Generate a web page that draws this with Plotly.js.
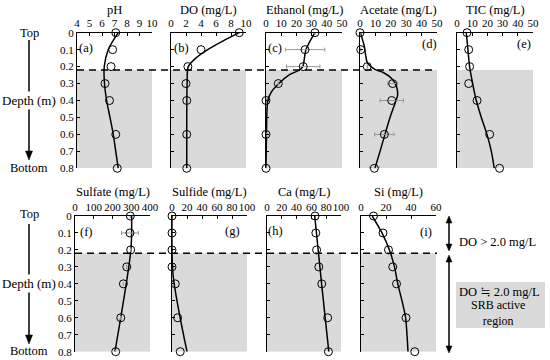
<!DOCTYPE html>
<html>
<head>
<meta charset="utf-8">
<script src="https://cdn.plot.ly/plotly-3.0.1.min.js"></script>
<style>
html,body{margin:0;padding:0;background:#fff;}
#chart{width:550px;height:360px;}
#chart svg text{font-family:"Liberation Serif","Times New Roman","DejaVu Serif",serif !important;}
</style>
</head>
<body>
<div id="chart"></div>
<script>
// ---- data ----
const depth = [0, 0.1, 0.2, 0.3, 0.4, 0.6, 0.8];
const pH = [7.1, 6.85, 6.72, 6.24, 6.6, 7.1, 7.22];
const DO = [9.1, 4.0, 2.25, 2.0, 2.1, 2.1, 2.1];
const ethanol = [32.2, 25.7, 24.5, 8.1, 0, 0, 0];
const ethanolErr = [null, 13, 11, null, null, null, null];
const acetate = [0, 0.5, 4.7, 21.2, 20.6, 15.8, 9.3];
const acetateErr = [null, null, null, 3.2, 7.6, 6.3, 3.2];
const tic = [6.6, 7.7, 8.3, 7.7, 13.2, 21.5, 28];
const sulfate = [295, 293, 297, 276, 258, 244, 217];
const sulfateErr = [null, 45, null, null, null, null, null];
const sulfide = [0, 0, 0, 0, 4.4, 7.5, 11];
const ca = [65, 66, 67, 70, 74, 82, 83];
const si = [10, 17.6, 22, 25.4, 28.4, 36, 43];

// fitted curves
const fitDepth9 = [0, 0.1, 0.2, 0.3, 0.4, 0.5, 0.6, 0.7, 0.8];
const pHFit = [7.3, 6.5, 6.18, 6.2, 6.37, 6.64, 6.9, 7.1, 7.3];
const DOFitDepth = [0, 0.05, 0.1, 0.15, 0.2, 0.3, 0.5, 0.8];
const DOFit = [9.1, 6.9, 4.9, 3.3, 2.3, 2.15, 2.1, 2.1];
const ethanolFitDepth = [0, 0.1, 0.2, 0.22, 0.25, 0.3, 0.35, 0.4, 0.5, 0.6, 0.8];
const ethanolFit = [32.2, 26.3, 24.2, 22, 15, 8.5, 3.5, 1.2, 0.5, 0.3, 0];
const acetateFitDepth = [0, 0.08, 0.18, 0.216, 0.235, 0.27, 0.32, 0.37, 0.4, 0.5, 0.6, 0.7, 0.8];
const acetateFit = [0.3, 2.8, 4.9, 9.7, 15.1, 20.6, 23.8, 24.4, 23.4, 19.5, 16.2, 13, 9.7];
const ticFit = [6.1, 7.2, 8.3, 10.3, 12.7, 16, 19.7, 22.6, 24.5];
const sulfateFitDepth = [0, 0.2, 0.8];
const sulfateFit = [302, 298, 213];
const sulfideFitDepth = [0, 0.35, 0.8];
const sulfideFit = [0, 1.5, 20];
const caFitDepth = [0, 0.4, 0.8];
const caFit = [64.5, 73.8, 83.5];
const siFit = [9, 16.8, 22.7, 26.8, 29.4, 32.8, 35.7, 36.8, 37.6];

const titles = ['pH', 'DO (mg/L)', 'Ethanol (mg/L)', 'Acetate (mg/L)', 'TIC (mg/L)',
                'Sulfate (mg/L)', 'Sulfide (mg/L)', 'Ca (mg/L)', 'Si (mg/L)'];
const panelLabels = ['(a)', '(b)', '(c)', '(d)', '(e)', '(f)', '(g)', '(h)', '(i)'];
const xRanges = [[4, 10], [0, 10], [0, 50], [0, 50], [0, 50], [0, 400], [0, 100], [0, 100], [0, 60]];
const xDticks = [1, 2, 10, 10, 10, 100, 20, 20, 20];
const depthTicks = [0, 0.1, 0.2, 0.3, 0.4, 0.5, 0.6, 0.7, 0.8];
const activeTop = 0.22;

// ---- layout geometry (pixels) ----
const W = 550, H = 360;
const px = v => v / W;
const py = v => 1 - v / H;
const xPix = [[77, 152], [171, 246], [266, 342], [360, 437], [457, 533],
              [75, 150], [172, 247], [267, 341], [361, 436]];
const rowPix = [[32.7, 168.3], [216, 351.7]];
const labelPos = [[86, 48], [181, 48], [275, 48], [429, 44], [524, 44],
                  [86, 232], [232, 231], [275, 231], [426, 232]];

const FONT = '"Liberation Serif", "Times New Roman", "DejaVu Serif", serif';
const GRAY = '#dadada';

const series = [
  {v: pH, fd: fitDepth9, f: pHFit},
  {v: DO, fd: DOFitDepth, f: DOFit},
  {v: ethanol, e: ethanolErr, fd: ethanolFitDepth, f: ethanolFit},
  {v: acetate, e: acetateErr, fd: acetateFitDepth, f: acetateFit},
  {v: tic, fd: fitDepth9, f: ticFit},
  {v: sulfate, e: sulfateErr, fd: sulfateFitDepth, f: sulfateFit},
  {v: sulfide, fd: sulfideFitDepth, f: sulfideFit},
  {v: ca, fd: caFitDepth, f: caFit},
  {v: si, fd: fitDepth9, f: siFit}
];

const layout = {
  width: W, height: H,
  margin: {l: 0, r: 0, t: 0, b: 0},
  paper_bgcolor: '#fff', plot_bgcolor: 'rgba(0,0,0,0)',
  showlegend: false,
  font: {family: FONT, size: 11, color: '#000'},
  shapes: [], annotations: []
};
const traces = [];

series.forEach((s, i) => {
  const n = i + 1;
  const xs = n === 1 ? '' : String(n);
  const row = i < 5 ? 0 : 1;
  const [yt, yb] = rowPix[row];
  layout['xaxis' + xs] = {
    domain: [px(xPix[i][0]), px(xPix[i][1])],
    range: xRanges[i], dtick: xDticks[i], tick0: 0, tickangle: 0,
    side: 'top', anchor: 'y' + xs,
    showline: true, linecolor: '#000', linewidth: 1,
    ticks: 'inside', ticklen: 3, tickcolor: '#000', tickwidth: 1,
    showgrid: false, zeroline: false, fixedrange: true,
    tickfont: {family: FONT, size: 11, color: '#000'}
  };
  layout['yaxis' + xs] = {
    domain: [py(yb), py(yt)],
    range: [0.8, 0], tickvals: depthTicks, anchor: 'x' + xs,
    showline: true, linecolor: '#000', linewidth: 1,
    ticks: 'inside', ticklen: 3, tickcolor: '#000', tickwidth: 1,
    showticklabels: (i === 0 || i === 5),
    showgrid: false, zeroline: false, fixedrange: true,
    tickfont: {family: FONT, size: 11, color: '#000'}
  };
  // gray active region
  layout.shapes.push({type: 'rect', layer: 'below', xref: 'x' + xs + ' domain', yref: 'y' + xs,
    x0: 0, x1: 1, y0: activeTop, y1: 0.8, fillcolor: GRAY, line: {width: 0}});
  // fit line
  traces.push({type: 'scatter', mode: 'lines', x: s.f, y: s.fd, xaxis: 'x' + xs, yaxis: 'y' + xs,
    line: {color: '#000', width: 1.5, shape: 'spline', smoothing: 0.8}, cliponaxis: false, hoverinfo: 'skip'});
  // points
  const pt = {type: 'scatter', mode: 'markers', x: s.v, y: depth, xaxis: 'x' + xs, yaxis: 'y' + xs,
    marker: {symbol: 'circle-open', size: 8, color: '#000', line: {width: 1, color: '#000'}},
    cliponaxis: false, hoverinfo: 'skip'};
  if (s.e) pt.error_x = {type: 'data', array: s.e, visible: true, color: '#999', thickness: 1, width: 2};
  traces.push(pt);
  // title
  layout.annotations.push({xref: 'x' + xs + ' domain', yref: 'paper', x: 0.5, y: py(row === 0 ? 10 : 192),
    xanchor: 'center', yanchor: 'middle', text: titles[i], showarrow: false,
    font: {family: FONT, size: 12.5, color: '#000'}});
  // panel label
  layout.annotations.push({xref: 'paper', yref: 'paper', x: px(labelPos[i][0]), y: py(labelPos[i][1]),
    xanchor: 'center', yanchor: 'middle', text: panelLabels[i], showarrow: false,
    font: {family: FONT, size: 12.5, color: '#000'}});
});

// dashed boundary lines
layout.shapes.push({type: 'line', xref: 'paper', yref: 'y', x0: px(77), x1: px(437), y0: activeTop, y1: activeTop,
  line: {color: '#000', width: 1.5, dash: '7px,5px'}, layer: 'above'});
layout.shapes.push({type: 'line', xref: 'paper', yref: 'y6', x0: px(75), x1: px(437), y0: activeTop, y1: activeTop,
  line: {color: '#000', width: 1.5, dash: '7px,5px'}, layer: 'above'});

// arrows drawn with shapes (pixel coords converted to paper)
function head(x, yTip, dir, w, l) {
  const yb = yTip - dir * l;
  return {type: 'path', xref: 'paper', yref: 'paper', layer: 'above',
    path: `M ${px(x - w / 2)} ${py(yb)} L ${px(x + w / 2)} ${py(yb)} L ${px(x)} ${py(yTip)} Z`,
    fillcolor: '#000', line: {color: '#000', width: 0.5}};
}
function shaft(x, y0, y1) {
  return {type: 'line', xref: 'paper', yref: 'paper', layer: 'above', x0: px(x), x1: px(x), y0: py(y0), y1: py(y1),
    line: {color: '#000', width: 1.5}};
}
// left depth arrows
layout.shapes.push(shaft(29, 40, 152), head(29, 160, 1, 7, 9));
layout.shapes.push(shaft(29, 224, 336), head(29, 344, 1, 7, 9));
// right double arrows
layout.shapes.push(shaft(449, 222, 245), head(449, 216, -1, 6, 7), head(449, 251, 1, 6, 7));
layout.shapes.push(shaft(449, 261, 347), head(449, 255, -1, 6, 7), head(449, 353, 1, 6, 7));
// gray info box
layout.shapes.push({type: 'rect', xref: 'paper', yref: 'paper', layer: 'below',
  x0: px(456), x1: px(545), y0: py(328), y1: py(282), fillcolor: GRAY, line: {width: 0}});

function txt(x, y, t, size, bg) {
  const a = {xref: 'paper', yref: 'paper', x: px(x), y: py(y), xanchor: 'center', yanchor: 'middle',
    text: t, showarrow: false, font: {family: FONT, size: size || 12.5, color: '#000'}};
  if (bg) { a.bgcolor = bg; a.borderpad = 1; }
  return a;
}
layout.annotations.push(
  txt(29, 32.5, 'Top'), txt(29, 168, 'Bottom'), txt(29, 100, 'Depth (m)', 13, '#fff'),
  txt(29, 213.5, 'Top'), txt(29, 351, 'Bottom'), txt(29, 283, 'Depth (m)', 13, '#fff'),
  txt(497, 242, 'DO &gt; 2.0 mg/L', 12.5),
  txt(499, 292, 'DO ≒ 2.0 mg/L', 12.5),
  txt(498, 313, 'SRB active<br>region', 12)
);

Plotly.newPlot('chart', traces, layout, {staticPlot: true, displayModeBar: false});
</script>
</body>
</html>
